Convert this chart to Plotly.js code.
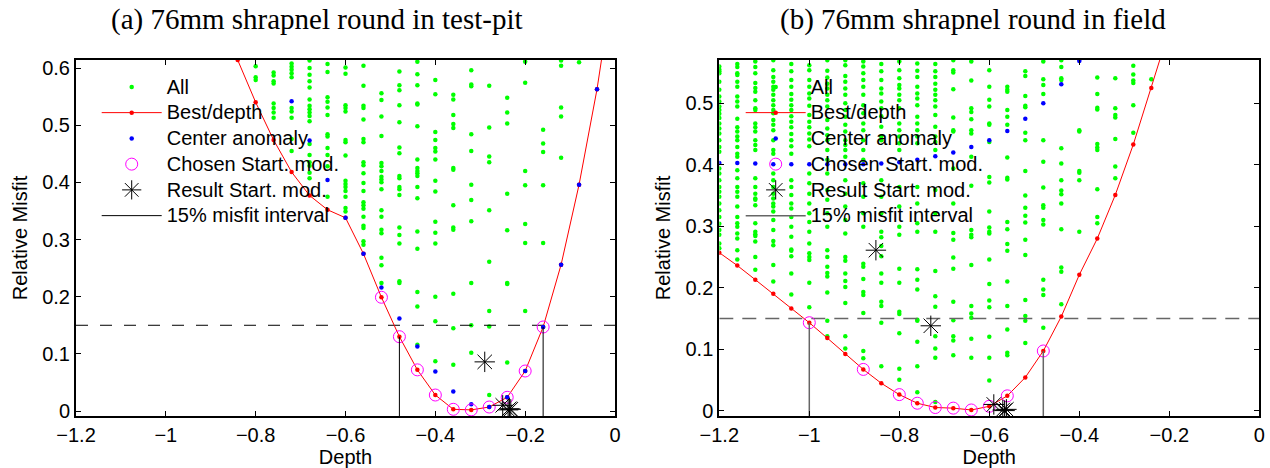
<!DOCTYPE html>
<html><head><meta charset="utf-8">
<script src="https://cdn.plot.ly/plotly-3.0.1.min.js"></script>
<style>html,body{margin:0;padding:0;background:#fff}#chart{width:1270px;height:468px}</style>
</head><body><div id="chart"></div>
<script>
// ---------------- (a) test-pit ----------------
const titleA = '(a) 76mm shrapnel round in test-pit';
const bestDepthA = [-0.84,-0.80,-0.76,-0.72,-0.68,-0.64,-0.60,-0.56,-0.52,-0.48,-0.44,-0.40,-0.36,-0.32,-0.28,-0.24,-0.20,-0.16,-0.12,-0.08,-0.04,0.00];
const bestMisfitA = [0.614,0.540,0.474,0.418,0.377,0.352,0.338,0.275,0.199,0.130,0.072,0.028,0.003,0.002,0.007,0.024,0.070,0.147,0.256,0.396,0.563,0.77];
const centerDepthA = [-0.72,-0.68,-0.64,-0.60,-0.56,-0.52,-0.48,-0.44,-0.40,-0.36,-0.32,-0.28,-0.24,-0.20,-0.16,-0.12,-0.08,-0.04];
const centerMisfitA = [0.542,0.473,0.404,0.338,0.275,0.216,0.162,0.113,0.069,0.034,0.012,0.007,0.024,0.070,0.147,0.256,0.396,0.563];
const chosenDepthA = [-0.52,-0.48,-0.44,-0.40,-0.36,-0.32,-0.28,-0.24,-0.20,-0.16];
const chosenMisfitA = [0.199,0.130,0.072,0.028,0.003,0.002,0.007,0.024,0.070,0.147];
const resultDepthA = [-0.290,-0.250,-0.238,-0.235,-0.232];
const resultMisfitA = [0.086,0.010,0.002,0.004,0.003];
const intervalDepthA = [-0.48,-0.16];
const intervalMisfitA = [0.130,0.147];
const allDepthA = [-0.80,-0.76,-0.72,-0.68,-0.64,-0.60,-0.56,-0.52,-0.48,-0.44,-0.40,-0.36,-0.32,-0.28,-0.24,-0.20,-0.16,-0.12,-0.08];
const allMisfitA = [
 [0.603,0.584,0.579],
 [0.592,0.587,0.577,0.573,0.538,0.530,0.522,0.513],
 [0.608,0.602,0.597,0.591,0.584,0.530,0.524,0.513,0.476,0.455],
 [0.613,0.600,0.588,0.577,0.566,0.545,0.534,0.528,0.522,0.516,0.507,0.467,0.448,0.435,0.429,0.417,0.407],
 [0.607,0.593,0.549,0.541,0.531,0.518,0.484,0.480,0.460,0.448,0.428,0.375],
 [0.601,0.590,0.535,0.530,0.524,0.474,0.470,0.447,0.403,0.397,0.392,0.385,0.375,0.355,0.349],
 [0.604,0.569,0.534,0.530,0.510,0.476,0.470,0.435,0.430,0.416,0.399,0.385,0.365,0.360,0.354,0.340,0.324,0.320,0.297,0.291],
 [0.556,0.544,0.515,0.481,0.434,0.428,0.420,0.410,0.405,0.400,0.388,0.351,0.340,0.317,0.311,0.268,0.255,0.224],
 [0.594,0.570,0.561,0.535,0.505,0.461,0.451,0.411,0.407,0.392,0.388,0.378,0.321,0.308,0.293,0.227,0.224],
 [0.611,0.589,0.570,0.538,0.536,0.498,0.440,0.425,0.420,0.416,0.411,0.392,0.372,0.314,0.284,0.208,0.183,0.116],
 [0.579,0.554,0.488,0.474,0.460,0.454,0.440,0.403,0.384,0.331,0.312,0.293,0.200,0.157,0.087],
 [0.553,0.545,0.518,0.502,0.495,0.425,0.422,0.360,0.321,0.317,0.205,0.145,0.081],
 [0.596,0.571,0.568,0.484,0.455,0.396,0.369,0.332,0.224,0.150,0.102],
 [0.569,0.496,0.445,0.435,0.351,0.261,0.175,0.148,0.028],
 [0.548,0.522,0.503,0.380,0.316,0.224,0.222,0.085],
 [0.611,0.574,0.420,0.395,0.327,0.294,0.175],
 [0.492,0.468,0.453,0.395,0.294],
 [0.613,0.604,0.531,0.515,0.443],
 [0.610]
];

// ---------------- (b) field ----------------
const titleB = '(b) 76mm shrapnel round in field';
const bestDepthB = [-1.20,-1.16,-1.12,-1.08,-1.04,-1.00,-0.96,-0.92,-0.88,-0.84,-0.80,-0.76,-0.72,-0.68,-0.64,-0.60,-0.56,-0.52,-0.48,-0.44,-0.40,-0.36,-0.32,-0.28,-0.24,-0.20];
const bestMisfitB = [0.257,0.236,0.213,0.190,0.166,0.143,0.118,0.092,0.067,0.0445,0.026,0.012,0.005,0.004,0.001,0.007,0.024,0.054,0.097,0.153,0.221,0.280,0.351,0.433,0.525,0.62];
const centerDepthB = [-1.20,-1.16,-1.12,-1.08,-1.04,-1.00,-0.96,-0.92,-0.88,-0.84,-0.80,-0.76,-0.72,-0.68,-0.64,-0.60,-0.56,-0.52,-0.48,-0.44,-0.40];
const centerMisfitB = [0.403,0.403,0.402,0.401,0.401,0.401,0.401,0.401,0.401,0.402,0.404,0.408,0.414,0.420,0.429,0.440,0.455,0.475,0.500,0.531,0.569];
const chosenDepthB = [-1.00,-0.88,-0.80,-0.76,-0.72,-0.68,-0.64,-0.60,-0.56,-0.48];
const chosenMisfitB = [0.143,0.067,0.026,0.012,0.005,0.004,0.001,0.007,0.024,0.097];
const resultDepthB = [-0.852,-0.730,-0.590,-0.570,-0.566,-0.562];
const resultMisfitB = [0.261,0.138,0.010,0.001,0.000,0.002];
const intervalDepthB = [-1.00,-0.48];
const intervalMisfitB = [0.143,0.097];
const allDepthB = [-1.20,-1.16,-1.12,-1.08,-1.04,-1.00,-0.96,-0.92,-0.88,-0.84,-0.80,-0.76,-0.72,-0.68,-0.64,-0.60,-0.56,-0.52,-0.48,-0.44,-0.40,-0.36,-0.32,-0.28,-0.24];
const allMisfitB = [
 [0.560,0.555,0.552,0.549,0.535,0.522,0.511,0.503,0.495,0.489,0.483,0.476,0.467,0.459,0.451,0.440,0.429,0.421,0.394,0.386,0.375,0.364,0.356,0.348,0.337,0.326,0.315,0.304,0.294,0.286,0.272,0.264],
 [0.564,0.559,0.549,0.546,0.535,0.527,0.511,0.503,0.495,0.475,0.461,0.454,0.446,0.440,0.429,0.418,0.413,0.391,0.378,0.364,0.356,0.348,0.332,0.315,0.305,0.299,0.288,0.280,0.261,0.246],
 [0.568,0.559,0.549,0.533,0.525,0.519,0.505,0.492,0.489,0.467,0.461,0.454,0.440,0.432,0.424,0.378,0.364,0.353,0.345,0.343,0.334,0.305,0.291,0.287,0.284,0.275,0.250,0.229],
 [0.570,0.554,0.543,0.535,0.527,0.522,0.514,0.505,0.497,0.489,0.484,0.473,0.465,0.456,0.440,0.424,0.418,0.386,0.375,0.364,0.353,0.345,0.337,0.332,0.324,0.310,0.294,0.276,0.269,0.237,0.210],
 [0.564,0.552,0.538,0.527,0.515,0.506,0.497,0.489,0.479,0.470,0.461,0.450,0.440,0.430,0.418,0.375,0.364,0.351,0.337,0.329,0.315,0.299,0.283,0.262,0.260,0.251,0.223,0.189],
 [0.562,0.554,0.538,0.527,0.516,0.508,0.496,0.481,0.470,0.461,0.451,0.441,0.430,0.386,0.370,0.353,0.337,0.321,0.307,0.291,0.272,0.256,0.250,0.245,0.208,0.168],
 [0.570,0.553,0.542,0.532,0.524,0.514,0.505,0.495,0.473,0.459,0.448,0.440,0.424,0.408,0.386,0.359,0.343,0.321,0.299,0.261,0.250,0.234,0.224,0.218,0.192,0.146,0.121],
 [0.570,0.562,0.5445,0.535,0.524,0.514,0.500,0.489,0.478,0.465,0.454,0.440,0.432,0.424,0.413,0.375,0.353,0.332,0.310,0.288,0.250,0.244,0.223,0.211,0.201,0.175,0.121,0.101],
 [0.568,0.560,0.549,0.538,0.527,0.514,0.497,0.484,0.467,0.456,0.440,0.424,0.408,0.370,0.348,0.321,0.299,0.239,0.234,0.214,0.193,0.188,0.159,0.097,0.085],
 [0.564,0.552,0.538,0.524,0.516,0.503,0.492,0.479,0.462,0.446,0.440,0.375,0.348,0.321,0.291,0.282,0.268,0.251,0.223,0.208,0.177,0.170,0.143,0.072],
 [0.568,0.554,0.541,0.530,0.524,0.514,0.505,0.492,0.467,0.456,0.446,0.435,0.424,0.364,0.332,0.299,0.286,0.231,0.208,0.161,0.157,0.126,0.068,0.050],
 [0.565,0.553,0.543,0.527,0.516,0.508,0.497,0.478,0.467,0.456,0.446,0.435,0.364,0.337,0.305,0.291,0.230,0.213,0.197,0.148,0.146,0.112,0.072,0.030],
 [0.564,0.552,0.543,0.532,0.522,0.514,0.505,0.495,0.481,0.462,0.446,0.437,0.424,0.359,0.321,0.291,0.227,0.186,0.169,0.121,0.101,0.086,0.014],
 [0.570,0.554,0.550,0.523,0.477,0.456,0.454,0.394,0.337,0.289,0.278,0.249,0.231,0.177,0.147,0.121,0.114,0.090],
 [0.568,0.537,0.492,0.486,0.474,0.456,0.451,0.413,0.366,0.294,0.286,0.282,0.237,0.170,0.158,0.151,0.117,0.086],
 [0.554,0.527,0.506,0.495,0.467,0.465,0.437,0.380,0.371,0.324,0.298,0.291,0.288,0.246,0.206,0.179,0.168,0.120,0.086,0.049],
 [0.527,0.522,0.519,0.489,0.478,0.465,0.412,0.379,0.376,0.307,0.295,0.271,0.260,0.210,0.170,0.132,0.094,0.090],
 [0.552,0.5445,0.512,0.496,0.4935,0.452,0.440,0.390,0.350,0.330,0.317,0.306,0.278,0.253,0.180,0.154,0.146,0.110],
 [0.568,0.539,0.530,0.515,0.440,0.405,0.363,0.334,0.330,0.310,0.303,0.213,0.197,0.188,0.135],
 [0.570,0.559,0.541,0.538,0.427,0.402,0.375,0.358,0.352,0.337,0.295,0.233,0.226,0.173],
 [0.456,0.454,0.390,0.387,0.375,0.291],
 [0.542,0.515,0.493,0.490,0.434,0.428,0.424,0.360,0.315,0.305],
 [0.541,0.492,0.481,0.477,0.442,0.397,0.378],
 [0.561,0.547,0.537,0.533,0.497,0.452],
 [0.539]
];

const misfitLimit = 0.15;          // 15% misfit
const depthRange = [-1.2, 0];
const misfitRangeA = [-0.0087, 0.614];
const misfitRangeB = [-0.0088, 0.5705];
const legendNames = ['All','Best/depth','Center anomaly','Chosen Start. mod.','Result Start. mod.','15% misfit interval'];

// ---------------- build ----------------
const FONT = 'Liberation Sans, Arial, Helvetica, sans-serif';
const SERIF = 'Liberation Serif, Times New Roman, serif';
const LEG = n => '<span style="font-size:20px">' + n + '</span>';

function flatten(cols, vals){
  const x=[], y=[];
  cols.forEach((d,i)=>vals[i].forEach(v=>{x.push(d); y.push(v);}));
  return {x,y};
}
function segments(depths, tops, bottom){
  const x=[], y=[];
  depths.forEach((d,i)=>{x.push(d,d,null); y.push(bottom,tops[i],null);});
  return {x,y};
}

function panel(xa, ya, lg, allD, allM, bD, bM, cD, cM, chD, chM, rD, rM, iD, iM, yr, sty){
  const all = flatten(allD, allM);
  const seg = segments(iD, iM, yr[0]);
  const base = {xaxis:xa, yaxis:ya, legend:lg, hoverinfo:'skip'};
  return [
    Object.assign({}, base, {type:'scatter', mode:'markers', name:LEG(legendNames[0]), x:all.x, y:all.y,
      marker:{color:'#00ff00', size:4.5}}),
    Object.assign({}, base, {type:'scatter', mode:'lines', showlegend:false, x:depthRange, y:[misfitLimit, misfitLimit],
      line:{color:sty.col, width:sty.dw, dash:sty.dash}}),
    Object.assign({}, base, {type:'scatter', mode:'lines+markers', name:LEG(legendNames[1]), x:bD, y:bM,
      line:{color:'#ff0000', width:1}, marker:{color:'#ff0000', size:4.5}}),
    Object.assign({}, base, {type:'scatter', mode:'markers', name:LEG(legendNames[2]), x:cD, y:cM,
      marker:{color:'#0000ff', size:4.5}}),
    Object.assign({}, base, {type:'scatter', mode:'markers', name:LEG(legendNames[3]), x:chD, y:chM,
      marker:{symbol:'circle-open', color:'#ff00ff', size:12, line:{width:1, color:'#ff00ff'}}}),
    Object.assign({}, base, {type:'scatter', mode:'markers', name:LEG(legendNames[4]), x:rD, y:rM,
      marker:{symbol:'asterisk-open', color:'#000', size:17, line:{width:1, color:'#000'}}}),
    Object.assign({}, base, {type:'scatter', mode:'lines', name:LEG(legendNames[5]), x:seg.x, y:seg.y,
      line:{color:sty.col, width:sty.vw}})
  ];
}

const data = [].concat(
  panel('x','y','legend', allDepthA, allMisfitA, bestDepthA, bestMisfitA, centerDepthA, centerMisfitA,
        chosenDepthA, chosenMisfitA, resultDepthA, resultMisfitA, intervalDepthA, intervalMisfitA, misfitRangeA,
        {col:'#000', dw:1, dash:'12px,12px', vw:1}),
  panel('x2','y2','legend2', allDepthB, allMisfitB, bestDepthB, bestMisfitB, centerDepthB, centerMisfitB,
        chosenDepthB, chosenMisfitB, resultDepthB, resultMisfitB, intervalDepthB, intervalMisfitB, misfitRangeB,
        {col:'#666', dw:1.5, dash:'14px,9px', vw:1.5})
);

const W = 1270, H = 468;
const axisBase = {showline:true, mirror:'ticks', linecolor:'#000', linewidth:2, ticks:'inside', ticklen:5,
  tickcolor:'#000', tickwidth:1, showgrid:false, zeroline:false, fixedrange:true,
  tickfont:{family:FONT, size:20, color:'#000'}};
const yDom = [(H-416)/H, (H-60)/H];

const xTitle = {text:'Depth', font:{family:FONT, size:20, color:'#000'}, standoff:2};
const yTitle = {text:'Relative Misfit', font:{family:FONT, size:20, color:'#000'}, standoff:9};

const legendBase = {bgcolor:'rgba(0,0,0,0)', borderwidth:0, font:{family:FONT, size:17.5, color:'#000'},
  xanchor:'left', yanchor:'top', itemwidth:60, tracegroupgap:0, itemclick:false, itemdoubleclick:false};

const layout = {
  width:W, height:H, margin:{l:0, r:0, t:0, b:0}, paper_bgcolor:'#fff', plot_bgcolor:'#fff',
  showlegend:true,
  xaxis: Object.assign({}, axisBase, {domain:[76/W, 615/W], range:depthRange, dtick:0.2, tick0:0, anchor:'y', title:xTitle}),
  yaxis: Object.assign({}, axisBase, {domain:yDom, range:misfitRangeA, dtick:0.1, tick0:0, anchor:'x', title:yTitle}),
  xaxis2: Object.assign({}, axisBase, {domain:[719.3/W, 1259.3/W], range:depthRange, dtick:0.2, tick0:0, anchor:'y2', title:xTitle}),
  yaxis2: Object.assign({}, axisBase, {domain:yDom, range:misfitRangeB, dtick:0.1, tick0:0, anchor:'x2', title:yTitle}),
  legend: Object.assign({}, legendBase, {x:96.7/W, y:(H-69)/H}),
  legend2: Object.assign({}, legendBase, {x:740.7/W, y:(H-69)/H}),
  annotations:[
    {text:titleA, xref:'paper', yref:'paper', x:317/W, y:(H-20)/H, xanchor:'center', yanchor:'middle', showarrow:false,
     font:{family:SERIF, size:29, color:'#000'}},
    {text:titleB, xref:'paper', yref:'paper', x:973/W, y:(H-20)/H, xanchor:'center', yanchor:'middle', showarrow:false,
     font:{family:SERIF, size:29, color:'#000'}}
  ]
};

Plotly.newPlot('chart', data, layout, {displayModeBar:false, staticPlot:true});
</script></body></html>
